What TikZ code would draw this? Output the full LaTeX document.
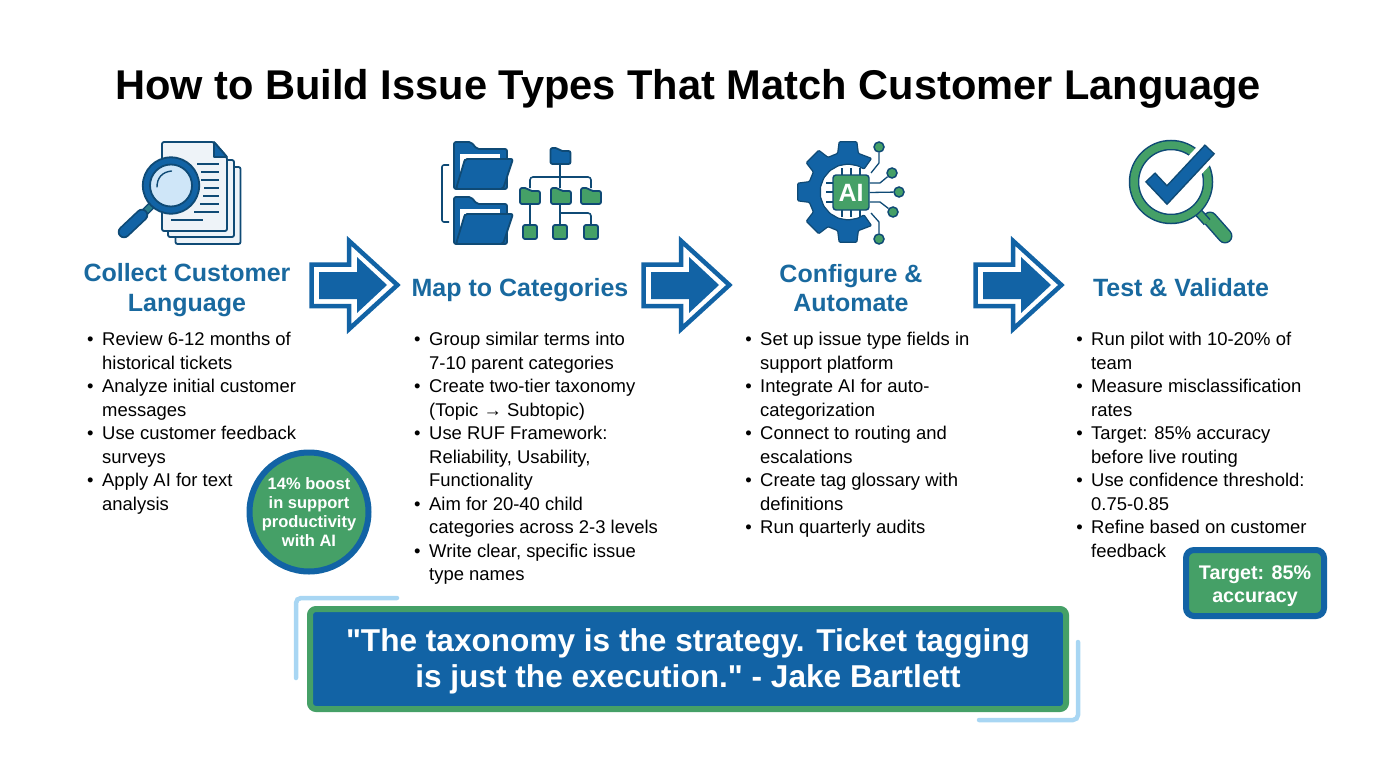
\documentclass[tikz,border=0pt]{standalone}
\usepackage{fontspec}
\setmainfont{Liberation Sans}[Ligatures=TeXOff]
\usetikzlibrary{positioning}
\definecolor{navy}{HTML}{0F4A75}
\definecolor{bluefill}{HTML}{1263A5}
\definecolor{headblue}{HTML}{19699F}
\definecolor{greenfill}{HTML}{45A067}
\definecolor{lightblue}{HTML}{A8D6F3}
\definecolor{lensblue}{HTML}{CFE6F8}
\definecolor{pagegrey}{HTML}{EEF3F8}
\definecolor{neckteal}{HTML}{2A7D8C}
\newcommand{\bitem}{\llap{\textbullet\hspace{8.5pt}}}
\tikzset{
    heading/.style={align=center,text=headblue,font=\fontsize{25}{29.5}\selectfont\bfseries,inner sep=0pt},
    bullets/.style={align=left,anchor=north west,inner sep=0pt,font=\fontsize{18.45}{23.5}\selectfont},
    outline/.style={draw=navy,line width=1.8pt,line join=round},
    leafbox/.style={outline,fill=greenfill,rounded corners=2pt,inner sep=0pt},
    link/.style={draw=navy,line width=1.6pt,rounded corners=3pt},
    pcb/.style={draw=navy,line width=1.3pt,line join=round},
    pad/.style={circle,draw=navy,line width=1.5pt,fill=greenfill,minimum size=10pt,inner sep=0pt},
    pics/flowarrow/.style={code={
        \draw[draw=bluefill,line width=4.5pt,fill=white,miter limit=10]
            (2.5,-20.5) -- (40.2,-20.5) -- (40.2,-44) -- (88.4,0) -- (40.2,44) -- (40.2,21) -- (2.5,21) -- cycle;
        \fill[bluefill] (10,-13) -- (48,-13) -- (48,-28) -- (78,0) -- (48,28) -- (48,14) -- (10,14) -- cycle;
    }},
    pics/bigfolder/.style={code={
        \draw[outline,fill=bluefill,rounded corners=2pt] (0,47) -- (0,0) -- (17,0) -- (23,7) -- (53,7) -- (53,47) -- cycle;
        \fill[white] (6,12) -- (46,12) -- (46,17) -- (6,17) -- cycle;
        \fill[white] (6,12) rectangle (10,34);
        \draw[outline,fill=bluefill,rounded corners=2pt] (2,47) -- (11,17) -- (59,17) -- (49,47) -- cycle;
    }},
    pics/smallfolder/.style={code={
        \draw[outline,fill=#1,rounded corners=2pt] (-10,8) -- (-10,-8) -- (-3,-8) -- (0,-5) -- (10,-5) -- (10,8) -- cycle;
    }},
}
\begin{document}
\begin{tikzpicture}[x=1pt,y=-1pt]
    \useasboundingbox (0,0) rectangle (1376,768);

    \node (title) at (688,88.5) {\fontsize{41.6}{48}\selectfont\bfseries How to Build Issue Types That Match Customer Language};

    % first icon
    \draw[outline,fill=pagegrey,rounded corners=2pt] (175.5,167) rectangle (240.5,244);
    \draw[outline,fill=pagegrey,rounded corners=2pt] (168,160) rectangle (234,237);
    \draw[outline,fill=pagegrey,rounded corners=2pt] (162,142) -- (214,142) -- (227,157) -- (227,231) -- (162,231) -- cycle;
    \draw[outline,fill=bluefill] (214,142) -- (214,157) -- (227,157) -- cycle;
    \foreach \y/\x in {164/197,172/201,180/201,188/204,196/203,204/200,212/194}
        \draw[navy,line width=1.7pt] (\x,\y) -- (219,\y);
    \draw[navy,line width=1.7pt] (171,220) -- (203,220);
    \draw[navy,line width=8pt] (143,214) -- (153,204);
    \draw[neckteal,line width=5pt] (143,214) -- (153,204);
    \draw[navy,line width=12.5pt,line cap=round] (124,232) -- (142,215);
    \draw[bluefill,line width=9pt,line cap=round] (124,232) -- (142,215);
    \draw[outline,fill=bluefill] (171,185.5) circle (28.2);
    \draw[outline,fill=lensblue] (171,185.5) circle (21);
    \draw[navy,line width=1.4pt,line cap=round] (157,187) .. controls (157,178) and (162,172) .. (171.5,171);

    % second icon
    \draw[link,rounded corners=2pt] (449,165) -- (442,165) -- (442,222) -- (449,222);
    \pic at (454,142) {bigfolder};
    \pic at (454,197) {bigfolder};
    \pic at (560.5,156) {smallfolder=bluefill};
    \pic at (530,196) {smallfolder=greenfill};
    \pic at (561,196) {smallfolder=greenfill};
    \pic at (591,196) {smallfolder=greenfill};
    \coordinate (troot) at (560,164);
    \coordinate (tfolda) at (530,204);
    \coordinate (tfoldb) at (560,204);
    \node (tleafa) [leafbox,minimum width=14pt,minimum height=14pt] at (530,232) {};
    \node (tleafb) [leafbox,minimum width=14pt,minimum height=14pt] at (560,232) {};
    \node (tleafc) [leafbox,minimum width=14pt,minimum height=14pt] at (591,232) {};
    \draw[link] (troot) -- (560,188);
    \draw[link] (530,188) -- (530,177) -- (591,177) -- (591,188);
    \draw[link] (tfolda) -- (tleafa.north);
    \draw[link] (tfoldb) -- (tleafb.north);
    \draw[link] (560,213) -- (591,213) -- (tleafc.north);

    % third icon
    \draw[outline,fill=bluefill,line width=1.2pt,rounded corners=1pt]
        ([shift={(848,192)}]55:41)
        \foreach \a in {90,135,180,225,270} {
            -- ([shift={(848,192)}]\a-15:40) -- ([shift={(848,192)}]\a-10:51) -- ([shift={(848,192)}]\a+10:51) -- ([shift={(848,192)}]\a+15:40)
        }
        -- ([shift={(848,192)}]305:41)
        -- ([shift={(848,192)}]305:28)
        \foreach \a in {290,270,...,70} {
            -- ([shift={(848,192)}]\a:28)
        }
        -- ([shift={(848,192)}]55:28) -- cycle;
    \foreach \x in {842,851,860} {
        \draw[pcb] (\x,168) -- (\x,217);
    }
    \foreach \y in {183,192,202} {
        \draw[pcb] (826,\y) -- (840,\y);
    }
    \node (chip) [draw=navy,line width=1.4pt,fill=greenfill,rounded corners=3pt,minimum width=36pt,minimum height=35pt,inner sep=0pt,text=white,font=\fontsize{25}{25}\selectfont\bfseries] at (851,192.5) {AI};
    \node (pada) [pad] at (879,147) {};
    \node (padb) [pad] at (892,173) {};
    \node (padc) [pad] at (899,192) {};
    \node (padd) [pad] at (893,212) {};
    \node (pade) [pad] at (879,239) {};
    \draw[pcb] (871,173) -- (879,163) -- (pada.south);
    \draw[pcb] (chip.east |- 0,183) -- (880,183) -- (padb);
    \draw[pcb] (chip.east) -- (padc);
    \draw[pcb] (chip.east |- 0,202) -- (880,202) -- (padd);
    \draw[pcb] (871,213) -- (879,222) -- (pade.north);

    % fourth icon
    \draw[navy,line width=15pt,line cap=round] (1210,219) -- (1225,236);
    \draw[greenfill,line width=12pt,line cap=round] (1210,219) -- (1225,236);
    \draw[navy,line width=9pt] (1171,182) ++(48:40) -- ++(48:14);
    \draw[greenfill,line width=6pt] (1171,182) ++(48:40) -- ++(48:14);
    \draw[navy,line width=10.5pt] (1171,182) circle (37);
    \draw[greenfill,line width=7.5pt] (1171,182) circle (37);
    \draw[white,line width=22pt] (1167,195) -- (1209,150);
    \draw[navy,line width=14pt,line join=miter] (1150,177) -- (1167,195) -- (1210,149);
    \draw[bluefill,line width=11pt,line join=miter] (1151,178) -- (1167,195) -- (1209,150);

    \node (colla) [heading] at (187,290) {Collect Customer\\Language};
    \node (collb) [heading] at (520,290) {Map to Categories};
    \node (collc) [heading] at (851,288) {Configure \&\\Automate};
    \node (colld) [heading] at (1181,288) {Test \& Validate};

    \foreach \x in {309,641,973}
        \pic at (\x,285) {flowarrow};

    \node (lista) [bullets] at (102,332) {\bitem Review 6-12 months of\\historical tickets\\\bitem Analyze initial customer\\messages\\\bitem Use customer feedback\\surveys\\\bitem Apply AI for text\\analysis};
    \node (listb) [bullets] at (429,332) {\bitem Group similar terms into\\7-10 parent categories\\\bitem Create two-tier taxonomy\\(Topic → Subtopic)\\\bitem Use RUF Framework:\\Reliability, Usability,\\Functionality\\\bitem Aim for 20-40 child\\categories across 2-3 levels\\\bitem Write clear, specific issue\\type names};
    \node (listc) [bullets] at (760,332) {\bitem Set up issue type fields in\\support platform\\\bitem Integrate AI for auto-\\categorization\\\bitem Connect to routing and\\escalations\\\bitem Create tag glossary with\\definitions\\\bitem Run quarterly audits};
    \node (listd) [bullets] at (1091,332) {\bitem Run pilot with 10-20\% of\\team\\\bitem Measure misclassification\\rates\\\bitem Target: 85\% accuracy\\before live routing\\\bitem Use confidence threshold:\\0.75-0.85\\\bitem Refine based on customer\\feedback};

    \node (boost) [circle,draw=bluefill,line width=6pt,fill=greenfill,minimum size=119pt,inner sep=0pt,align=center,text=white,font=\fontsize{16.5}{18.8}\selectfont\bfseries] at (309,512) {14\% boost\\in support\\productivity\\with AI};
    \node (targetbox) [draw=bluefill,line width=6pt,fill=greenfill,rounded corners=8pt,minimum width=138pt,minimum height=66pt,inner sep=0pt] at (1255,583) {};
    \node (target) [align=center,text=white,font=\fontsize{19.7}{23.5}\selectfont\bfseries] at (1255,586) {Target: 85\%\\accuracy};

    \draw[lightblue,line width=4.5pt,line cap=round,rounded corners=5pt] (296,678) -- (296,598) -- (397,598);
    \draw[lightblue,line width=4.5pt,line cap=round,rounded corners=5pt] (1078,642) -- (1078,720) -- (979,720);
    \node (quotebox) [draw=greenfill,line width=6pt,fill=bluefill,rounded corners=6pt,minimum width=756pt,minimum height=100pt,inner sep=0pt] at (688,659) {};
    \node (quote) [align=center,text=white,font=\fontsize{31.6}{36.5}\selectfont\bfseries] at (688,661.5) {"The taxonomy is the strategy. Ticket tagging\\is just the execution." - Jake Bartlett};
\end{tikzpicture}
\end{document}
